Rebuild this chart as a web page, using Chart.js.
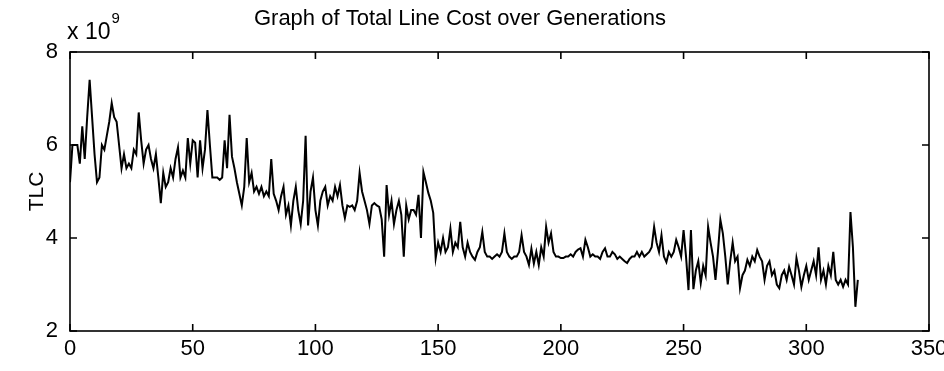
<!DOCTYPE html>
<html>
<head>
<meta charset="utf-8">
<script src="https://cdn.jsdelivr.net/npm/chart.js@4/dist/chart.umd.min.js"></script>
<style>
  html, body { margin: 0; padding: 0; background: #fff; }
  #wrap { width: 944px; height: 371px; position: relative; }
</style>
</head>
<body>
<div id="wrap"><canvas id="tlcChart" width="944" height="371"></canvas></div>
<script>
// Total line cost per generation (units of 10^9)
const tlc = [
  5.2, 6.0, 6.0, 6.0, 5.6, 6.4, 5.7, 6.6, 7.4, 6.6,
  5.8, 5.2, 5.3, 6.0, 5.9, 6.2, 6.5, 6.9, 6.6, 6.5,
  6.0, 5.5, 5.8, 5.5, 5.6, 5.5, 5.9, 5.8, 6.7, 6.1,
  5.6, 5.9, 6.0, 5.7, 5.5, 5.8, 5.3, 4.75, 5.4, 5.1,
  5.2, 5.5, 5.3, 5.7, 5.95, 5.3, 5.45, 5.3, 6.15, 5.6,
  6.1, 6.05, 5.3, 6.1, 5.5, 5.9, 6.75, 6.0, 5.3, 5.3,
  5.3, 5.25, 5.3, 6.1, 5.5, 6.65, 5.75, 5.5, 5.2, 4.95,
  4.7, 5.1, 6.15, 5.2, 5.4, 5.0, 5.1, 4.95, 5.1, 4.9,
  5.0, 4.9, 5.7, 4.95, 4.8, 4.6, 4.9, 5.1, 4.5, 4.7,
  4.27, 4.8, 5.1, 4.6, 4.3, 4.8, 6.2, 4.27, 5.0, 5.3,
  4.6, 4.27, 4.8, 5.0, 5.1, 4.7, 4.9, 4.8, 5.1, 4.9,
  5.14, 4.7, 4.43, 4.7, 4.67, 4.7, 4.6, 4.8, 5.4, 5.0,
  4.8, 4.6, 4.3, 4.7, 4.75, 4.7, 4.67, 4.4, 3.6, 5.14,
  4.5, 4.8, 4.3, 4.6, 4.8, 4.5, 3.6, 4.7, 4.4, 4.6,
  4.6, 4.5, 4.93, 4.0, 5.42, 5.2, 4.97, 4.8, 4.54, 3.57,
  3.9, 3.7, 4.0, 3.7, 3.8, 4.2, 3.7, 3.9, 3.8, 4.35,
  3.8, 3.6, 3.9, 3.7, 3.6, 3.53, 3.7, 3.8, 4.13, 3.7,
  3.6, 3.6, 3.55, 3.6, 3.65, 3.6, 3.7, 4.1, 3.7, 3.6,
  3.55, 3.6, 3.6, 3.7, 4.06, 3.7, 3.6, 3.42, 3.77, 3.45,
  3.7, 3.42, 3.8, 3.6, 4.24, 3.9, 4.1, 3.7, 3.6, 3.6,
  3.57, 3.57, 3.6, 3.6, 3.65, 3.6, 3.7, 3.75, 3.78, 3.6,
  3.96, 3.8, 3.6, 3.65, 3.6, 3.6, 3.55, 3.7, 3.78, 3.6,
  3.6, 3.7, 3.65, 3.55, 3.6, 3.55, 3.5, 3.46, 3.55, 3.6,
  3.6, 3.7, 3.6, 3.7, 3.6, 3.65, 3.7, 3.8, 4.24, 3.9,
  3.7, 4.06, 3.6, 3.48, 3.7, 3.6, 3.7, 3.96, 3.8, 3.6,
  4.17, 3.6, 2.88, 4.17, 2.9, 3.3, 3.5, 3.03, 3.4, 3.2,
  4.24, 3.9, 3.6, 3.1, 3.7, 4.39, 4.1, 3.6, 3.0, 3.5,
  3.9, 3.5, 3.6, 2.92, 3.2, 3.3, 3.53, 3.4, 3.6, 3.5,
  3.74, 3.6, 3.5, 3.1, 3.4, 3.5, 3.2, 3.3, 3.0, 2.92,
  3.2, 3.3, 3.1, 3.38, 3.2, 3.0, 3.57, 3.3, 2.95, 3.2,
  3.4, 3.1, 3.3, 3.5, 3.2, 3.8, 3.1, 3.3, 3.0, 3.4,
  3.2, 3.7, 3.1, 3.0, 3.1, 2.95, 3.1, 3.0, 4.56, 3.8,
  2.52, 3.1
];

const xTicks = [0, 50, 100, 150, 200, 250, 300, 350];
const yTicks = [2, 4, 6, 8];

const titleText = "Graph of Total Line Cost over Generations";
const yLabel = "TLC";

const FONT = "'Liberation Sans', Arial, sans-serif";

// ===============================
// Box, inward ticks and labels
// ===============================

const matlabAxes = {
  id: "matlabAxes",
  afterDraw(chart) {
    const ctx = chart.ctx;
    const a = chart.chartArea;
    const xs = chart.scales.x;
    const ys = chart.scales.y;
    ctx.save();
    ctx.strokeStyle = "#000";
    ctx.lineWidth = 1.6;
    ctx.strokeRect(a.left, a.top, a.right - a.left, a.bottom - a.top);

    const len = 7;
    ctx.beginPath();
    xTicks.forEach(t => {
      const px = xs.getPixelForValue(t);
      ctx.moveTo(px, a.bottom); ctx.lineTo(px, a.bottom - len);
      ctx.moveTo(px, a.top); ctx.lineTo(px, a.top + len);
    });
    yTicks.forEach(t => {
      const py = ys.getPixelForValue(t);
      ctx.moveTo(a.left, py); ctx.lineTo(a.left + len, py);
      ctx.moveTo(a.right, py); ctx.lineTo(a.right - len, py);
    });
    ctx.stroke();

    ctx.fillStyle = "#000";
    ctx.textBaseline = "alphabetic";

    // title
    ctx.font = "22px " + FONT;
    ctx.textAlign = "center";
    ctx.fillText(titleText, 460, 25);

    // exponent
    ctx.textAlign = "left";
    ctx.font = "23px " + FONT;
    ctx.fillText("x 10", 67, 39);
    const w = ctx.measureText("x 10").width;
    ctx.font = "15px " + FONT;
    ctx.fillText("9", 67 + w + 1, 23);

    // y label
    ctx.translate(43, (a.top + a.bottom) / 2);
    ctx.rotate(-Math.PI / 2);
    ctx.textAlign = "center";
    ctx.font = "21px " + FONT;
    ctx.fillText(yLabel, 0, 0);
    ctx.restore();
  }
};

new Chart(document.getElementById("tlcChart"), {
  type: "line",
  data: {
    datasets: [{
      data: tlc.map((v, i) => ({ x: i, y: v })),
      borderColor: "#000",
      borderWidth: 2,
      pointRadius: 0,
      tension: 0,
      fill: false
    }]
  },
  options: {
    responsive: false,
    animation: false,
    devicePixelRatio: 1,
    layout: { padding: { left: 0, top: 52, right: 15, bottom: 0 } },
    plugins: {
      legend: { display: false },
      title: { display: false },
      tooltip: { enabled: false }
    },
    scales: {
      x: {
        type: "linear",
        min: 0,
        max: 350,
        afterBuildTicks: s => { s.ticks = xTicks.map(v => ({ value: v })); },
        afterFit: s => { s.height = 40; s.paddingLeft = 0; s.paddingRight = 0; },
        grid: { display: false, drawTicks: false },
        border: { display: false },
        ticks: {
          color: "#000",
          padding: 5,
          maxRotation: 0,
          font: { family: FONT, size: 22 }
        }
      },
      y: {
        min: 2,
        max: 8,
        afterBuildTicks: s => { s.ticks = yTicks.map(v => ({ value: v })); },
        afterFit: s => { s.width = 70; s.paddingTop = 0; s.paddingBottom = 0; },
        grid: { display: false, drawTicks: false },
        border: { display: false },
        ticks: {
          color: "#000",
          padding: 12,
          font: { family: FONT, size: 22 }
        }
      }
    }
  },
  plugins: [matlabAxes]
});
</script>
</body>
</html>
